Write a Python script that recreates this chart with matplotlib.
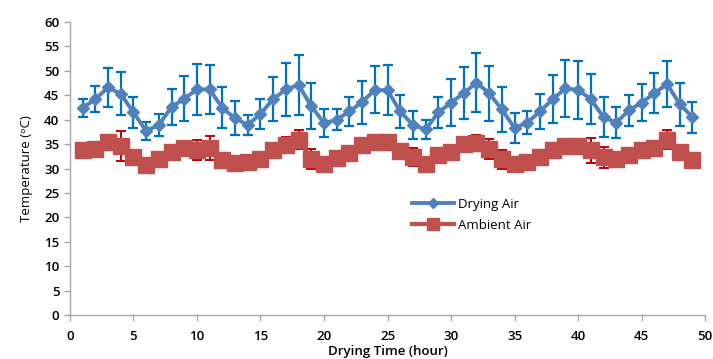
import matplotlib
matplotlib.use("Agg")
import matplotlib.pyplot as plt
import numpy as np

hours = list(range(1, 50))

drying_air = [42.4, 44.2, 46.6, 45.3, 41.5, 37.7, 38.9, 42.6, 44.3, 46.2,
              46.2, 42.4, 40.3, 38.9, 41.2, 44.2, 46.2, 47.1, 42.8, 39.3,
              40.0, 41.7, 43.6, 46.1, 46.0, 41.7, 38.9, 38.0, 41.5, 43.5,
              45.4, 47.6, 45.4, 42.1, 38.3, 39.4, 41.7, 44.2, 46.4, 46.1,
              44.2, 40.5, 39.4, 41.9, 43.5, 45.4, 47.3, 43.2, 40.5]
drying_err = [1.9, 2.7, 3.9, 4.4, 3.1, 1.8, 2.2, 3.7, 4.6, 5.2,
              5.1, 4.2, 3.5, 2.1, 3.1, 4.5, 5.4, 6.1, 4.8, 2.9,
              2.2, 3.0, 4.4, 4.8, 5.1, 3.4, 2.9, 2.0, 3.2, 4.8,
              5.3, 6.0, 5.6, 4.6, 3.1, 2.4, 3.6, 4.9, 5.9, 6.0,
              5.1, 4.1, 3.2, 3.1, 3.8, 4.1, 4.7, 4.4, 3.2]

ambient_air = [33.7, 34.0, 35.5, 34.6, 32.3, 30.7, 31.9, 33.3, 34.2, 33.8,
               34.2, 31.8, 31.1, 31.4, 31.9, 33.8, 34.8, 35.9, 31.9, 30.9,
               32.1, 33.1, 34.8, 35.5, 35.5, 33.5, 32.4, 30.9, 32.8, 33.3,
               35.0, 35.3, 34.0, 31.9, 30.9, 31.4, 32.4, 33.8, 34.6, 34.6,
               33.7, 32.3, 31.9, 32.8, 33.7, 34.3, 35.9, 33.3, 31.7]
ambient_err = [0, 0, 0, 3.0, 0, 0, 0, 0, 1.5, 2.0,
               2.5, 0, 0, 1.4, 0, 0, 1.6, 1.9, 2.0, 0,
               0, 0, 0, 0, 0, 0, 1.9, 0, 0, 0,
               0, 1.6, 2.1, 1.9, 1.5, 1.4, 0, 0, 0, 1.4,
               2.5, 2.1, 0, 0, 0, 0, 2.0, 0, 0]

plt.rcParams['font.family'] = ['Open Sans', 'DejaVu Sans']

fig = plt.figure(figsize=(7.13, 3.59), dpi=100)
ax = fig.add_axes([0.098, 0.1226, 0.891, 0.816])

# error bars first so the markers sit on top
ax.errorbar(hours, drying_air, yerr=drying_err, fmt='none', ecolor='#0070C0',
            elinewidth=1.6, capsize=3.5, capthick=1.6, zorder=2)
ax.errorbar(hours, ambient_air, yerr=ambient_err, fmt='none', ecolor='#C00000',
            elinewidth=1.4, capsize=3.5, capthick=1.4, zorder=2)

ax.plot(hours, drying_air, color='#4F81BD', lw=2.8, marker='D', ms=6.5,
        mfc='#4F81BD', mec='#4F81BD', label='Drying Air', zorder=4)
ax.plot(hours, ambient_air, color='#C0504D', lw=3, marker='s', ms=11,
        mfc='#C0504D', mec='#C0504D', label='Ambient Air', zorder=3)

ax.set_xlim(0, 50)
ax.set_ylim(0, 60)
ax.set_xticks(np.arange(0, 51, 5))
ax.set_yticks(np.arange(0, 61, 5))

for side in ['top', 'right']:
    ax.spines[side].set_visible(False)
for side in ['left', 'bottom']:
    ax.spines[side].set_color('#A6A6A6')
    ax.spines[side].set_linewidth(1)

ax.tick_params(axis='both', colors='#A6A6A6', length=4, width=1,
               labelcolor='black', labelsize=9.5)
ax.tick_params(axis='x', pad=7)
for lab in ax.get_xticklabels() + ax.get_yticklabels():
    lab.set_fontweight('semibold')

ax.set_xlabel('Drying Time (hour)', fontsize=9.5, fontweight='semibold', labelpad=1)
ax.set_ylabel('Temperature (\u1d52C)', fontsize=9.5, labelpad=8)

leg = ax.legend(loc='upper left', bbox_to_anchor=(0.52, 0.44), frameon=False,
                fontsize=9.5, handlelength=3.2, handletextpad=0.3,
                labelspacing=0.6, markerscale=0.8)

fig.savefig('out.png', dpi=100)
